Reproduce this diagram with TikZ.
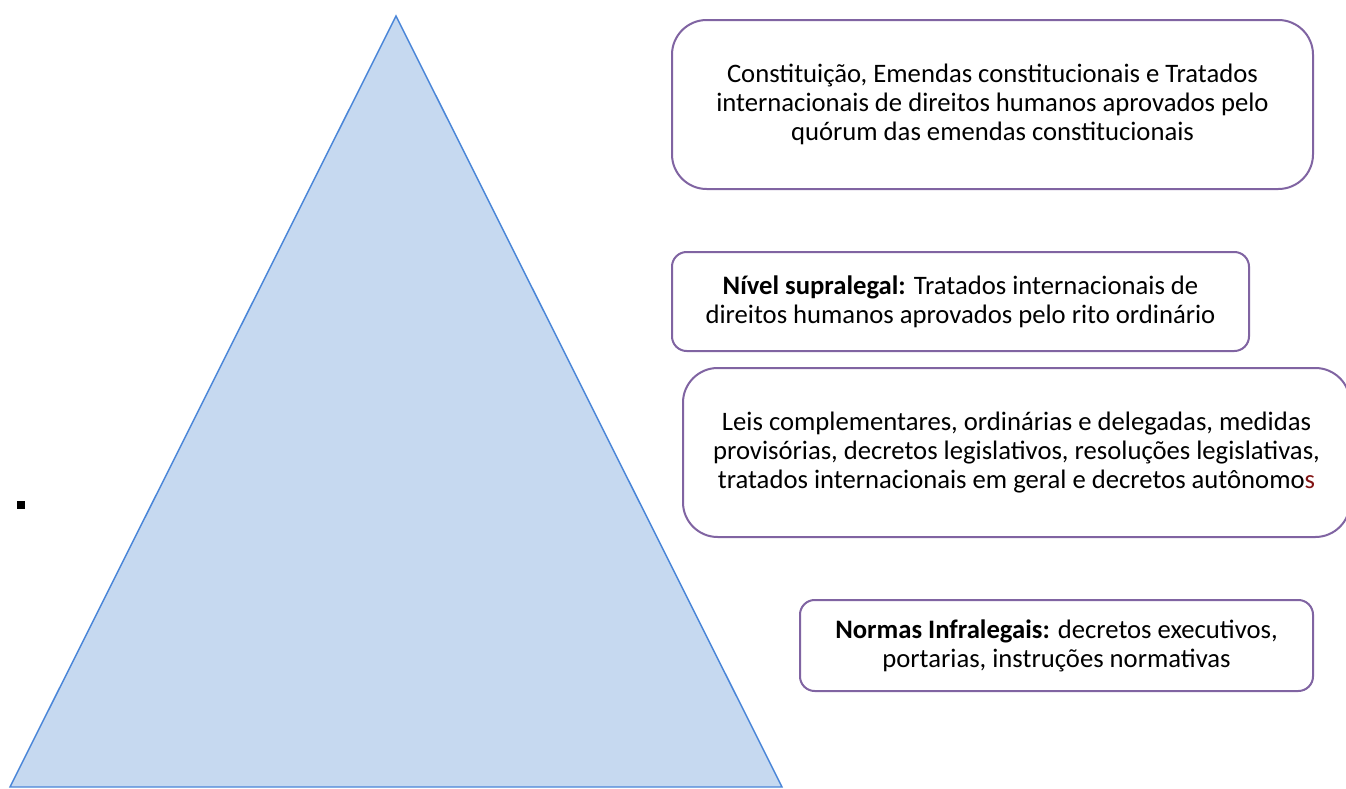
\documentclass[tikz,border=0pt]{standalone}
\usepackage{fontspec}
\setmainfont{Carlito}
\definecolor{trifill}{RGB}{198,217,240}
\definecolor{triline}{RGB}{74,134,216}
\definecolor{boxline}{RGB}{128,100,162}
\definecolor{darkred}{RGB}{130,20,20}
\tikzset{
  lbox/.style={draw=boxline, line width=1.5pt, fill=white, align=center,
    font=\fontsize{20}{21.9}\selectfont, inner sep=0pt},
}
\begin{document}
\begin{tikzpicture}[x=0.75pt,y=-0.75pt]
\useasboundingbox (0,0) rectangle (1346,789);
\clip (0,0) rectangle (1346,789);
\fill[white] (0,0) rectangle (1346,789);
% pyramid
\coordinate (apex) at (396,16);
\coordinate (bl) at (10,787);
\coordinate (br) at (782,787);
\draw[fill=trifill, draw=triline, line width=1.1pt, line join=miter] (apex) -- (br) -- (bl) -- cycle;
% small square
\node[fill=black, minimum size=6pt, inner sep=0pt] (dot) at (21,504.5) {};
% boxes
\node[lbox, rounded corners=26pt, minimum width=480.75pt, minimum height=126.75pt] (b1) at (992.5,104.5)
  {Constituição, Emendas constitucionais e Tratados\\internacionais de direitos humanos aprovados pelo\\quórum das emendas constitucionais};
\node[lbox, rounded corners=11pt, minimum width=432.75pt, minimum height=74.25pt] (b2) at (960.5,301.5)
  {\textbf{Nível supralegal:} Tratados internacionais de\\direitos humanos aprovados pelo rito ordinário};
\node[lbox, rounded corners=26pt, minimum width=500.25pt, minimum height=126.75pt] (b3) at (1016.5,452.5)
  {Leis complementares, ordinárias e delegadas, medidas\\provisórias, decretos legislativos, resoluções legislativas,\\tratados internacionais em geral e decretos autônomo{\color{darkred}s}};
\node[lbox, rounded corners=11pt, minimum width=384.75pt, minimum height=68.25pt] (b4) at (1056.5,645.5)
  {\textbf{Normas Infralegais:} decretos executivos,\\portarias, instruções normativas};
\end{tikzpicture}
\end{document}
